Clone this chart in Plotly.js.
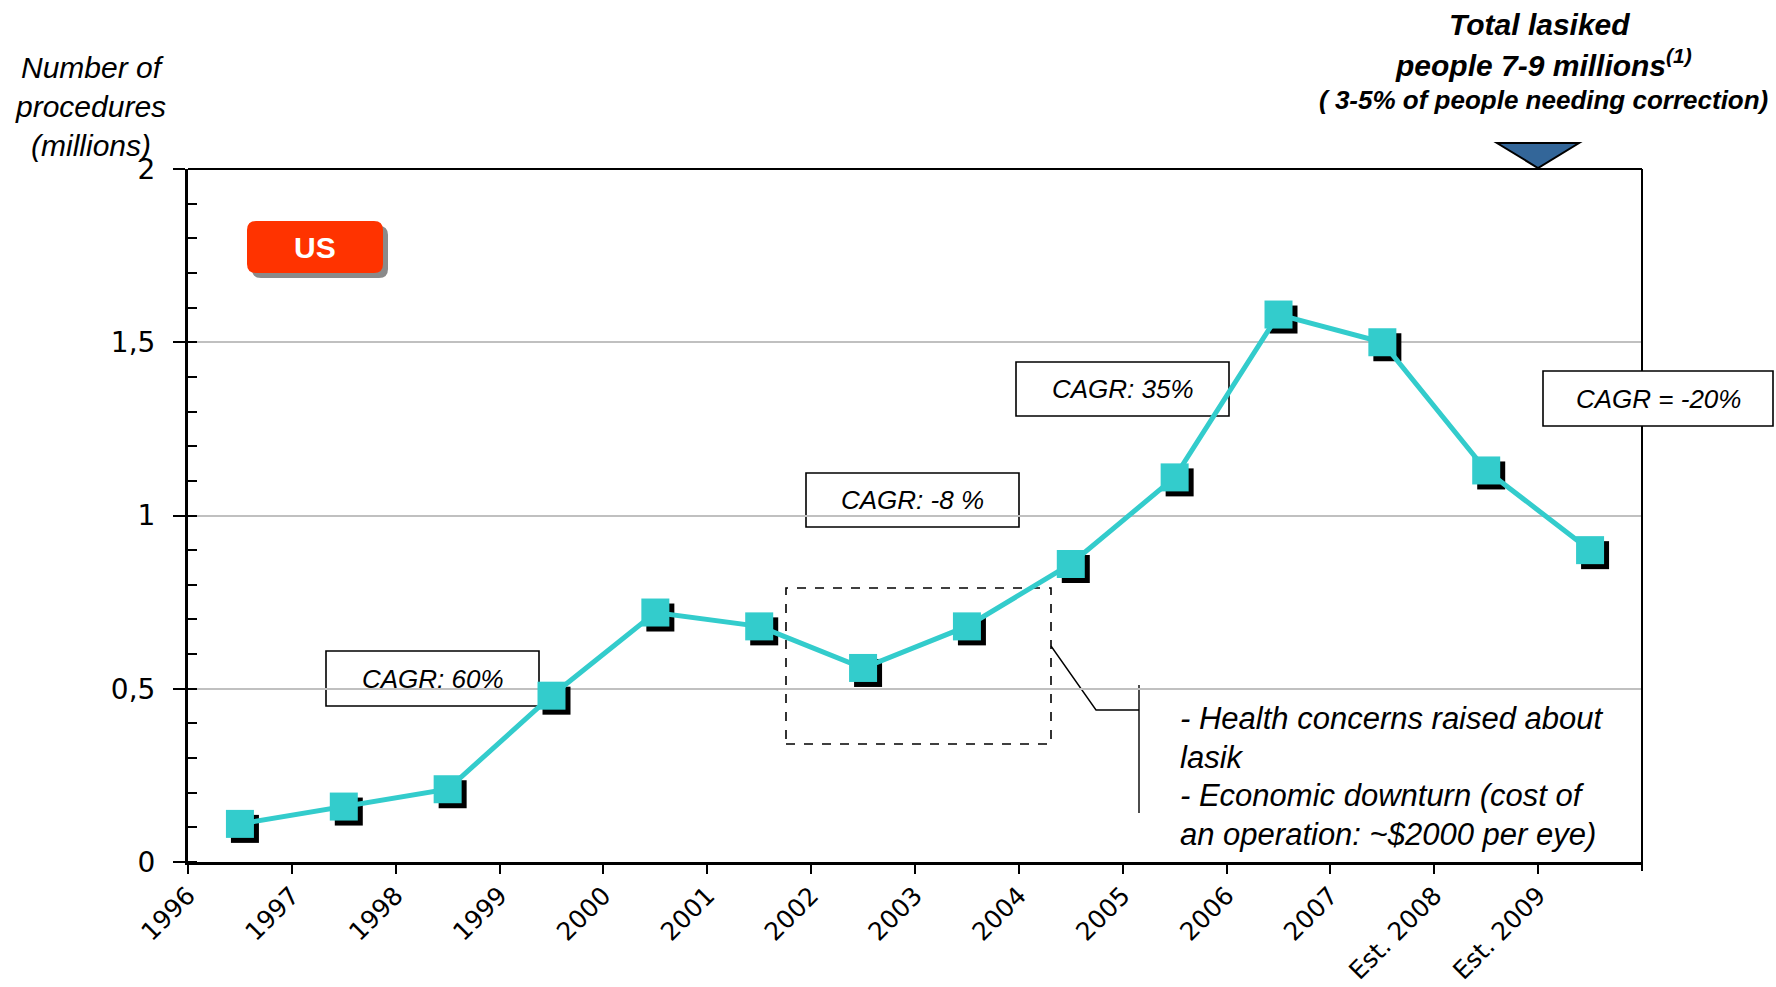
<!DOCTYPE html>
<html>
<head>
<meta charset="utf-8">
<script src="https://cdn.plot.ly/plotly-3.0.1.min.js"></script>
<style>
  html, body { margin: 0; padding: 0; background: #ffffff; }
  #chart { width: 1776px; height: 987px; }
</style>
</head>
<body>
<div id="chart"></div>
<script>
// ---- Data ----
const years = ['1996', '1997', '1998', '1999', '2000', '2001', '2002', '2003',
               '2004', '2005', '2006', '2007', 'Est. 2008', 'Est. 2009'];
const procedures = [0.11, 0.16, 0.21, 0.48, 0.72, 0.68, 0.56, 0.68,
                    0.86, 1.11, 1.58, 1.50, 1.13, 0.90];
const yTickVals = [0, 0.5, 1, 1.5, 2];
const cagrLabels = ['CAGR: 60%', 'CAGR: -8 %', 'CAGR: 35%', 'CAGR = -20%'];
const yTitle = 'Number of<br>procedures<br>(millions)';
const noteLines = ['- Health concerns raised about', 'lasik',
                   '- Economic downturn (cost of', 'an operation: ~$2000 per eye)'];

// ---- Layout geometry (pixels) ----
const W = 1776, H = 987;
const L = 188, T = 169, PW = 1459, PH = 698;   // paper area
const SH = 5;                                   // shadow offset
const px = x => (x - L) / PW;
const py = y => (T + PH - y) / PH;

const FONT = 'Liberation Sans, Arial, sans-serif';
const TICKFONT = 'DejaVu Sans, Liberation Sans, sans-serif';
const CYAN = '#33CCCC';

const mainX = [0, (PW - SH) / PW];
const mainY = [SH / PH, 1];
const shX = [SH / PW, 1];
const shY = [0, (PH - SH) / PH];
const xRange = [-0.5, years.length - 0.5];      // data axes: points at slot centres
const xLabelRange = [0, years.length];          // label axis: labels at slot boundaries
const yRange = [0, 2];

function hiddenX(domain, anchor) {
  return {type: 'category', domain: domain, range: xRange, anchor: anchor,
          visible: false, fixedrange: true, categoryorder: 'array', categoryarray: years};
}
function hiddenY(domain, anchor) {
  return {domain: domain, range: yRange, anchor: anchor, visible: false, fixedrange: true};
}

function roundRect(x0, y0, x1, y1, r) {
  return 'M' + px(x0 + r) + ',' + py(y0) +
    ' L' + px(x1 - r) + ',' + py(y0) +
    ' Q' + px(x1) + ',' + py(y0) + ' ' + px(x1) + ',' + py(y0 + r) +
    ' L' + px(x1) + ',' + py(y1 - r) +
    ' Q' + px(x1) + ',' + py(y1) + ' ' + px(x1 - r) + ',' + py(y1) +
    ' L' + px(x0 + r) + ',' + py(y1) +
    ' Q' + px(x0) + ',' + py(y1) + ' ' + px(x0) + ',' + py(y1 - r) +
    ' L' + px(x0) + ',' + py(y0 + r) +
    ' Q' + px(x0) + ',' + py(y0) + ' ' + px(x0 + r) + ',' + py(y0) + ' Z';
}

const traces = [
  { // carries the categories for the visible (label) axes
    x: years, y: procedures, xaxis: 'x', yaxis: 'y', type: 'scatter', mode: 'lines',
    line: {width: 0}, opacity: 0, hoverinfo: 'skip', showlegend: false
  },
  { // marker shadows
    x: years, y: procedures, xaxis: 'x2', yaxis: 'y2', type: 'scatter', mode: 'markers',
    marker: {symbol: 'square', size: 28, color: '#000000', line: {width: 0}},
    hoverinfo: 'skip', showlegend: false
  },
  { // main series
    x: years, y: procedures, xaxis: 'x3', yaxis: 'y3', type: 'scatter', mode: 'lines+markers',
    line: {color: CYAN, width: 5},
    marker: {symbol: 'square', size: 28, color: CYAN, line: {width: 0}},
    hoverinfo: 'skip', showlegend: false
  }
];

const boxLine = {color: '#000000', width: 1.6};
const boxes = [
  [326, 651, 539, 706],
  [806, 473, 1019, 527],
  [1016, 362, 1229, 416],
  [1543, 371, 1773, 426]
];

const shapes = [];
for (let i = 0; i < 3; i++) {
  const b = boxes[i];
  shapes.push({type: 'rect', xref: 'paper', yref: 'paper', layer: 'below',
    x0: px(b[0]), x1: px(b[2]), y0: py(b[3]), y1: py(b[1]), line: boxLine});
}
// dashed rectangle
shapes.push({type: 'rect', xref: 'paper', yref: 'paper', layer: 'below',
  x0: px(786), x1: px(1051), y0: py(744), y1: py(588),
  line: {color: '#000000', width: 1.6, dash: 'dash'}});
// callout connector
shapes.push({type: 'path', xref: 'paper', yref: 'paper', layer: 'below',
  path: 'M' + px(1051) + ',' + py(646) + ' L' + px(1096) + ',' + py(710) + ' L' + px(1139) + ',' + py(710),
  line: {color: '#000000', width: 1.4}});
shapes.push({type: 'line', xref: 'paper', yref: 'paper', layer: 'below',
  x0: px(1139), x1: px(1139), y0: py(685), y1: py(813),
  line: {color: '#000000', width: 1.4}});
// top and right borders of plot
shapes.push({type: 'line', xref: 'x domain', yref: 'y domain', x0: 0, x1: 1, y0: 1, y1: 1,
  line: {color: '#000000', width: 2}});
shapes.push({type: 'line', xref: 'x domain', yref: 'y domain', x0: 1, x1: 1, y0: 0, y1: 1,
  line: {color: '#000000', width: 2}});
// final tick at the right end of the category axis
shapes.push({type: 'line', xref: 'x domain', yref: 'paper', x0: 1, x1: 1, y0: py(862), y1: py(871),
  line: {color: '#000000', width: 2}});
// CAGR = -20% box (white fill covering border)
{
  const b = boxes[3];
  shapes.push({type: 'rect', xref: 'paper', yref: 'paper', layer: 'above',
    x0: px(b[0]), x1: px(b[2]), y0: py(b[3]), y1: py(b[1]), line: boxLine, fillcolor: '#ffffff'});
}
// US badge
shapes.push({type: 'path', xref: 'paper', yref: 'paper', layer: 'above',
  path: roundRect(252, 226, 388, 278, 9), fillcolor: '#8a8a8a', line: {width: 0}});
shapes.push({type: 'path', xref: 'paper', yref: 'paper', layer: 'above',
  path: roundRect(247, 221, 383, 273, 9), fillcolor: '#FF3300', line: {width: 0}});
// triangle marker
shapes.push({type: 'path', xref: 'paper', yref: 'paper', layer: 'above',
  path: 'M' + px(1497) + ',' + py(143) + ' L' + px(1579) + ',' + py(143) + ' L' + px(1538) + ',' + py(168) + ' Z',
  fillcolor: '#336699', line: {color: '#000000', width: 2}});

const annotations = [];
function ann(text, x, y, size, opts) {
  annotations.push(Object.assign({
    text: text, xref: 'paper', yref: 'paper', x: px(x), y: py(y),
    xanchor: 'center', yanchor: 'middle', showarrow: false,
    font: {family: FONT, size: size, color: '#000000'}
  }, opts || {}));
}
const cagrCenters = boxes.map(b => [(b[0] + b[2]) / 2, (b[1] + b[3]) / 2]);
cagrLabels.forEach((t, i) => ann('<i>' + t + '</i>', cagrCenters[i][0], cagrCenters[i][1], 26));
ann('<i>' + yTitle + '</i>', 90, 106, 30, {align: 'center'});
ann('<b><i>Total lasiked</i></b>', 1539, 25, 30);
ann('<b><i>people 7-9 millions<sup>(1)</sup></i></b>', 1543, 63, 30);
ann('<b><i>( 3-5% of people needing correction)</i></b>', 1543, 100, 26);
const noteY = [718, 757, 795, 834];
noteLines.forEach((t, i) => ann('<i>' + t + '</i>', 1178, noteY[i], 31, {xanchor: 'left', align: 'left'}));
ann('<b>US</b>', 315, 247, 30, {font: {family: FONT, size: 30, color: '#ffffff'}});

const layout = {
  width: W, height: H,
  margin: {l: L, r: W - L - PW, t: T, b: H - T - PH, pad: 0},
  paper_bgcolor: '#ffffff', plot_bgcolor: 'rgba(0,0,0,0)',
  separators: ', ',
  showlegend: false,
  font: {family: FONT, color: '#000000'},
  xaxis: {
    type: 'category', domain: mainX, range: xLabelRange, anchor: 'y',
    categoryorder: 'array', categoryarray: years,
    showline: true, linecolor: '#000000', linewidth: 3,
    ticks: 'outside', ticklen: 9, tickwidth: 2, tickcolor: '#000000',
    tickangle: -45, ticklabelstandoff: -3,
    tickfont: {family: TICKFONT, size: 25, color: '#000000'},
    showgrid: false, zeroline: false, fixedrange: true
  },
  yaxis: {
    domain: mainY, range: yRange, anchor: 'x',
    tickmode: 'array', tickvals: yTickVals,
    showline: true, linecolor: '#000000', linewidth: 3,
    ticks: 'outside', ticklen: 12, tickwidth: 2, tickcolor: '#000000',
    ticklabelstandoff: 12,
    minor: {dtick: 0.1, ticks: 'inside', ticklen: 9, tickwidth: 2, tickcolor: '#000000', showgrid: false},
    tickfont: {family: TICKFONT, size: 28, color: '#000000'},
    showgrid: true, gridcolor: '#c0c0c0', gridwidth: 2,
    zeroline: false, fixedrange: true
  },
  xaxis2: hiddenX(shX, 'y2'),
  yaxis2: hiddenY(shY, 'x2'),
  xaxis3: hiddenX(mainX, 'y3'),
  yaxis3: hiddenY(mainY, 'x3'),
  shapes: shapes,
  annotations: annotations
};

Plotly.newPlot('chart', traces, layout, {staticPlot: true, displayModeBar: false, responsive: false});
</script>
</body>
</html>
